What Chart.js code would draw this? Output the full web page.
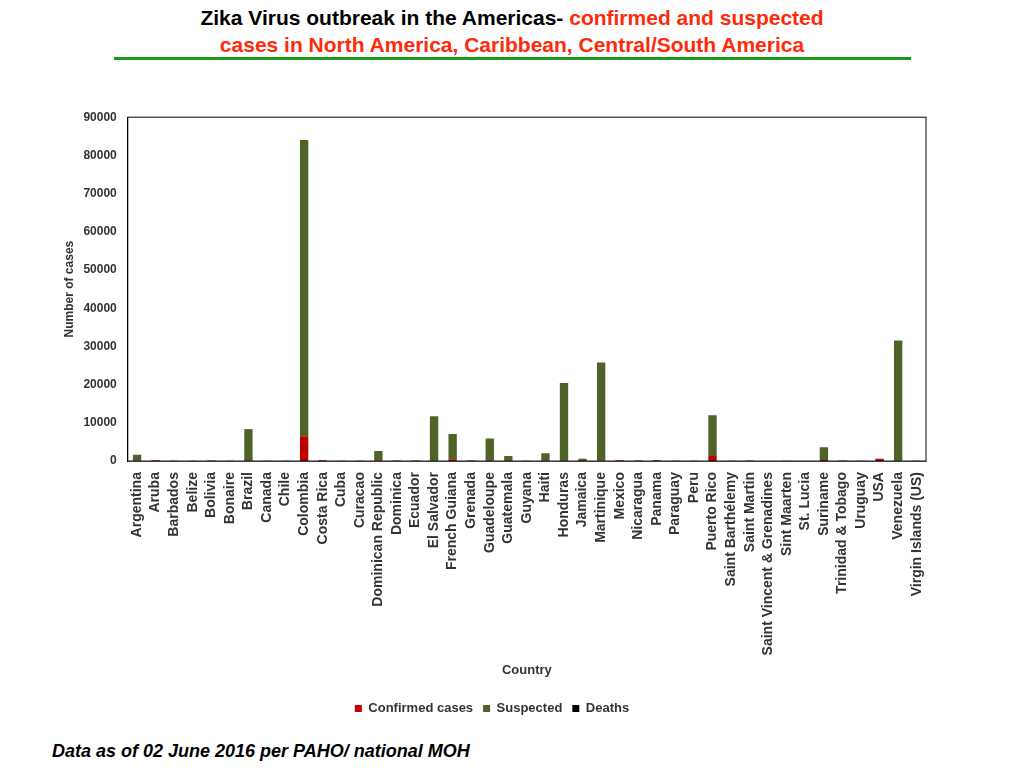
<!DOCTYPE html>
<html><head><meta charset="utf-8">
<script src="https://cdn.jsdelivr.net/npm/chart.js@4/dist/chart.umd.min.js"></script>
<style>
html,body{margin:0;padding:0;background:#fff;width:1024px;height:768px;overflow:hidden;font-family:"Liberation Sans",Arial,sans-serif}
#t{position:absolute;left:0;width:1024px;top:4px;text-align:center;font-weight:bold;font-size:21px;line-height:27px;color:#000}
#t span{color:#ff2a0a}
#rule{position:absolute;left:114px;top:57px;width:797px;height:3px;background:#1a9a1a}
#wrap{position:absolute;left:58px;top:107px;width:882px;height:618px}
#foot{position:absolute;left:52px;top:741px;font-weight:bold;font-style:italic;font-size:18px}
</style></head><body>
<div id="t">Zika Virus outbreak in the Americas- <span>confirmed and suspected</span><br><span>cases in North America, Caribbean, Central/South America</span></div>
<div id="rule"></div>
<div id="wrap"><canvas id="c" width="882" height="618"></canvas></div>
<div id="foot">Data as of 02 June 2016 per PAHO/ national MOH</div>
<script>
const countries=["Argentina","Aruba","Barbados","Belize","Bolivia","Bonaire","Brazil","Canada","Chile","Colombia","Costa Rica","Cuba","Curacao","Dominican Republic","Dominica","Ecuador","El Salvador","French Guiana","Grenada","Guadeloupe","Guatemala","Guyana","Haiti","Honduras","Jamaica","Martinique","Mexico","Nicaragua","Panama","Paraguay","Peru","Puerto Rico","Saint Barthélemy","Saint Martin","Saint Vincent & Grenadines","Sint Maarten","St. Lucia","Suriname","Trinidad & Tobago","Uruguay","USA","Venezuela","Virgin Islands (US)"];
const confirmed=[150,200,50,100,150,50,100,100,50,6500,200,50,100,150,80,150,50,500,80,100,100,50,50,50,30,100,200,150,200,50,100,1300,50,100,30,50,30,300,100,50,600,50,50];
const suspected=[1500,0,0,0,0,0,8200,0,0,77500,0,0,0,2500,50,0,11700,6600,100,5800,1200,50,2000,20400,600,25700,0,0,0,0,0,10500,50,50,0,50,0,3300,50,0,0,31500,0];
const deaths=[0,0,0,0,0,0,100,0,0,50,0,0,0,0,0,0,0,0,0,0,0,0,0,0,0,0,0,0,0,0,0,100,0,0,0,0,0,0,0,0,0,0,0];
const yTicks=[0,10000,20000,30000,40000,50000,60000,70000,80000,90000];
new Chart(document.getElementById('c'),{type:'bar',
data:{labels:countries,datasets:[
{label:'Confirmed cases',data:confirmed,backgroundColor:'#c00000'},
{label:'Suspected',data:suspected,backgroundColor:'#4f6228'},
{label:'Deaths',data:deaths,backgroundColor:'#000'}]},
options:{responsive:false,animation:false,
layout:{padding:{right:14}},
datasets:{bar:{categoryPercentage:1,barPercentage:0.45}},
plugins:{legend:{position:'bottom',labels:{boxWidth:7,boxHeight:7,font:{size:13,weight:'bold'},color:'#333'}},tooltip:{enabled:false}},
scales:{
x:{stacked:true,grid:{display:false},border:{color:'#888'},ticks:{autoSkip:false,maxRotation:90,minRotation:90,font:{size:14,weight:'bold'},color:'#333'},
 title:{display:true,text:'Country',font:{size:13,weight:'bold'},color:'#333',padding:{top:4,bottom:14}}},
y:{stacked:true,min:0,max:90000,afterBuildTicks:a=>{a.ticks=yTicks.map(v=>({value:v}))},grid:{display:false},border:{color:'#000'},
 ticks:{font:{size:12,weight:'bold'},color:'#333',callback:v=>String(v)},
 title:{display:true,text:'Number of cases',font:{size:12,weight:'bold'},color:'#333'}}}},
plugins:[{id:'frame',afterDraw(ch){const a=ch.chartArea,c=ch.ctx;c.save();c.strokeStyle='#000';c.lineWidth=1;c.strokeRect(a.left,a.top,a.right-a.left,a.bottom-a.top);c.restore();}}]
});
</script></body></html>
